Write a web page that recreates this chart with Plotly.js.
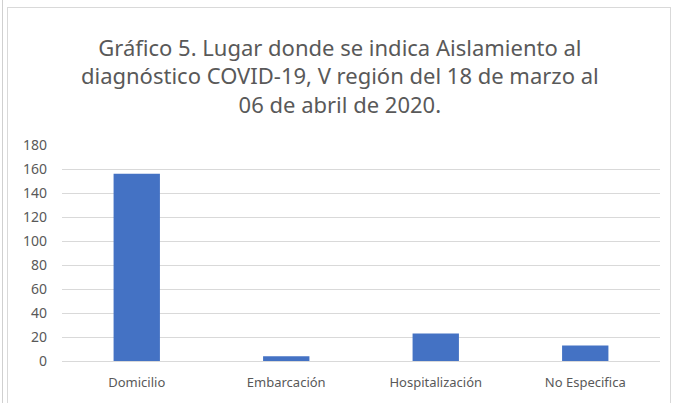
<!DOCTYPE html>
<html><head><meta charset="utf-8">
<script src="https://cdn.plot.ly/plotly-3.0.1.min.js"></script>
<style>
html,body{margin:0;padding:0;background:#fff;}
#wrap{position:relative;width:677px;height:403px;overflow:hidden;}
#chart{position:absolute;left:0;top:0;width:677px;height:403px;}
#frame{position:absolute;left:7px;top:7px;width:662px;height:420px;border:1px solid #d9d9d9;pointer-events:none;}
#edge{position:absolute;left:2px;top:0;width:1px;height:403px;background:#d0d0d0;}
</style></head>
<body>
<div id="wrap"><div id="chart"></div><div id="frame"></div><div id="edge"></div></div>
<script>
const categories = ["Domicilio", "Embarcación", "Hospitalización", "No Especifica"];
const values = [156, 4, 23, 13];
const yTicks = [0, 20, 40, 60, 80, 100, 120, 140, 160, 180];
const titleText = "Gráfico 5. Lugar donde se indica Aislamiento al<br>diagnóstico COVID-19, V región del 18 de marzo al<br>06 de abril de 2020.";

Plotly.newPlot("chart", [{
  type: "bar",
  x: categories,
  y: values,
  marker: {color: "#4472c4"},
  hoverinfo: "none"
}], {
  width: 677, height: 403,
  margin: {l: 62, r: 17, t: 145, b: 42},
  paper_bgcolor: "rgba(0,0,0,0)",
  plot_bgcolor: "#fff",
  bargap: 0.69,
  font: {family: "Noto Sans, sans-serif", color: "#595959", size: 13},
  title: {
    text: titleText,
    x: 0.502, xanchor: "center",
    y: 0.862, yanchor: "top",
    font: {family: "Noto Sans, sans-serif", size: 22, color: "#595959"}
  },
  xaxis: {
    showgrid: false, showline: false, ticks: "", ticklabelstandoff: 12,
    tickfont: {size: 13, color: "#595959"}
  },
  yaxis: {
    range: [0, 180], tickvals: yTicks, ticktext: yTicks.map(String),
    showgrid: true, gridcolor: "#d9d9d9", gridwidth: 1,
    zeroline: true, zerolinecolor: "#d9d9d9", zerolinewidth: 1,
    showline: false, ticks: "", ticklabelstandoff: 14,
    tickfont: {size: 14, color: "#595959"}
  },
  showlegend: false
}, {staticPlot: true});
</script>
</body></html>
